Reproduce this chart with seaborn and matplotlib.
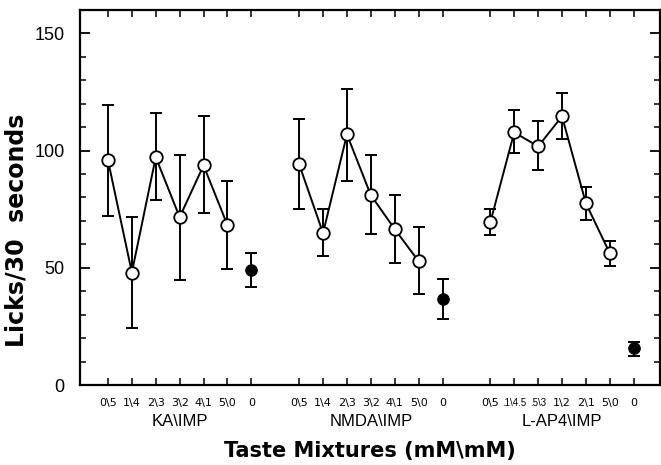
import numpy as np
import pandas as pd
import matplotlib
matplotlib.use("Agg")
import matplotlib.pyplot as plt
import matplotlib.transforms as mtransforms
import seaborn as sns

# groups and tick labels
groups = ["KA\\IMP", "NMDA\\IMP", "L-AP4\\IMP"]
ka_ticks = ["0\\5", "1\\4", "2\\3", "3\\2", "4\\1", "5\\0", "0"]
nmda_ticks = ["0\\5", "1\\4", "2\\3", "3\\2", "4\\1", "5\\0", "0"]
lap4_ticks = ["0\\5", ".1\\4.5", ".5\\3", "1\\2", "2\\1", "5\\0", "0"]

# means and error bar ends (last value = control, water/IMP 0)
ka_mean = [95.9, 48.0, 97.2, 71.6, 93.7, 68.2, 49.0]
ka_lo = [72.0, 24.3, 78.8, 44.7, 73.3, 49.4, 41.8]
ka_hi = [119.3, 71.6, 115.9, 98.0, 114.6, 86.9, 56.2]

nmda_mean = [94.2, 64.8, 106.9, 81.0, 66.5, 52.8, 36.6]
nmda_lo = [75.0, 55.0, 86.9, 64.3, 52.0, 38.8, 28.1]
nmda_hi = [113.3, 75.0, 126.5, 98.0, 81.0, 67.3, 45.2]

lap4_mean = [69.4, 107.8, 101.8, 114.6, 77.5, 56.2, 15.8]
lap4_lo = [63.9, 98.8, 91.6, 104.8, 70.3, 50.7, 12.4]
lap4_hi = [75.0, 117.2, 112.5, 124.4, 84.4, 61.4, 18.3]

sns.set_style("ticks")
plt.rcParams['font.family'] = ['Liberation Sans', 'DejaVu Sans']
for k in ['text.color', 'axes.labelcolor', 'xtick.color', 'ytick.color', 'axes.edgecolor']:
    plt.rcParams[k] = 'black'

fig = plt.figure(figsize=(6.61, 4.65), dpi=100)
ax = fig.add_axes([80/661, 80/465, 580/661, 375/465])

all_ticks = []
all_labels = []
data = [(ka_mean, ka_lo, ka_hi, ka_ticks),
        (nmda_mean, nmda_lo, nmda_hi, nmda_ticks),
        (lap4_mean, lap4_lo, lap4_hi, lap4_ticks)]

for g, (mean, lo, hi, ticks) in enumerate(data):
    pos = np.arange(7) + 8 * g
    mean = np.array(mean)
    err = [mean - np.array(lo), np.array(hi) - mean]
    ax.errorbar(pos, mean, yerr=err, fmt='none', ecolor='black',
                elinewidth=1.4, capsize=4, capthick=1.4, zorder=2)
    df = pd.DataFrame({'x': pos[:6], 'y': mean[:6]})
    sns.lineplot(data=df, x='x', y='y', color='black', lw=1.4, marker='o',
                 markersize=9, markerfacecolor='white', markeredgecolor='black',
                 markeredgewidth=1.3, ax=ax, zorder=3)
    sns.scatterplot(x=pos[6:], y=mean[6:], color='black', s=70,
                    edgecolor='black', ax=ax, zorder=4)
    all_ticks += list(pos)
    all_labels += ticks

ax.set_xlim(-1.17, 23.1)
ax.set_ylim(0, 160)
ax.set_xticks(all_ticks)
ax.set_xticklabels(all_labels, fontsize=8, family='DejaVu Sans')
# the two long L-AP4 labels run together in the original; keep them narrow
for lab in ax.get_xticklabels():
    if len(lab.get_text()) > 3:
        lab.set_fontsize(7)
        lab.set_family('Liberation Sans')
ax.set_yticks([0, 50, 100, 150])
ax.set_yticks(np.arange(0, 161, 10), minor=True)
ax.tick_params(axis='y', which='major', labelsize=13, direction='in',
               length=7, width=1.3, right=True, pad=11)
ax.tick_params(axis='y', which='minor', direction='in', length=4,
               width=1.1, right=True)
ax.tick_params(axis='x', direction='in', length=5, width=1.1, top=True, pad=9)
for s in ax.spines.values():
    s.set_linewidth(1.6)
    s.set_visible(True)
ax.set_xlabel("")
ax.set_ylabel("")

trans = mtransforms.blended_transform_factory(ax.transData, ax.transAxes)
for g, name in enumerate(groups):
    ax.text(3 + 8 * g, -0.096, name, transform=trans, ha='center',
            va='center', fontsize=12)

fig.text(370/661, 1 - 451/465, "Taste Mixtures (mM\\mM)", ha='center',
         va='center', fontsize=15, fontweight='bold', family='DejaVu Sans')
fig.text(17/661, 1 - 230/465, "Licks/30  seconds", ha='center', va='center',
         rotation=90, fontsize=17, fontweight='bold', family='DejaVu Sans')

fig.savefig("out.png", dpi=100)
